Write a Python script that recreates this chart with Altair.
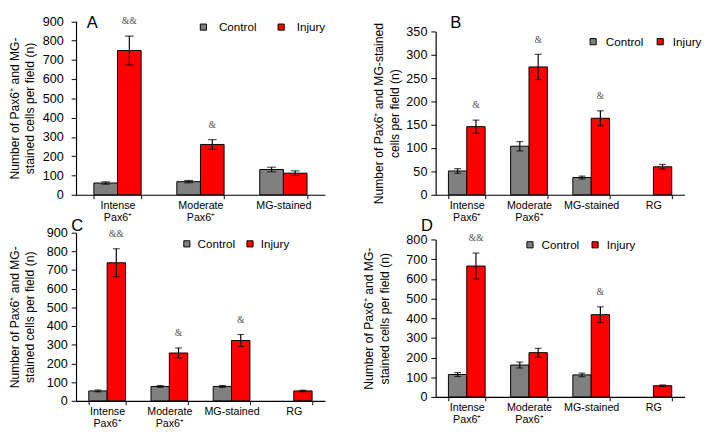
import altair as alt
import pandas as pd

FONT = "Liberation Sans"
SERIF = "Liberation Serif"
W, H = 694, 416  # overall view (page minus 8px margins)

groups = ["Control", "Injury"]
group_colors = ["#808080", "#ff0000"]

cats_a = ["Intense\nPax6⁺", "Moderate\nPax6⁺", "MG-stained"]
cats_bcd = ["Intense\nPax6⁺", "Moderate\nPax6⁺", "MG-stained", "RG"]

title_acd = ["Number of Pax6⁺ and MG-", "stained cells per field (n)"]
title_b = ["Number of Pax6⁺ and MG-stained", "cells per field (n)"]

# Panel A
a_control = [61, 68, 131]
a_control_err = [6, 6, 12]
a_injury = [748, 261, 112]
a_injury_err = [75, 25, 12]
a_sig = ["&&", "&", ""]

# Panel B
b_control = [51, 104, 37, None]
b_control_err = [5, 10, 3, None]
b_injury = [146, 274, 164, 60]
b_injury_err = [14, 27, 16, 5]
b_sig = ["&", "&", "&", ""]

# Panel C
c_control = [53, 77, 77, None]
c_control_err = [5, 5, 5, None]
c_injury = [739, 256, 323, 53]
c_injury_err = [75, 27, 32, 4]
c_sig = ["&&", "&", "&", ""]

# Panel D
d_control = [114, 162, 112, None]
d_control_err = [10, 15, 9, None]
d_injury = [665, 225, 418, 57]
d_injury_err = [66, 22, 40, 4]
d_sig = ["&&", "", "&", ""]


def panel(cats, control, control_err, injury, injury_err, sig, ymax, ystep,
          rect, title_lines, title_x, label_pad, legend_xy,
          legend_offset, legend_colpad, letter, letter_xy,
          pad_inner, pad_outer, cap):
    x0, x1, top, bottom = rect
    rows = []
    for i, c in enumerate(cats):
        for g, vals, errs in (("Control", control, control_err),
                              ("Injury", injury, injury_err)):
            v = vals[i]
            if v is None:
                continue
            rows.append(dict(cat=c, group=g, value=v, lo=v - errs[i],
                             hi=v + errs[i],
                             sig=sig[i] if g == "Injury" else ""))
    df = pd.DataFrame(rows)
    base = alt.Chart(df)

    x = alt.X("cat:N", sort=cats,
              scale=alt.Scale(range=[x0, x1], paddingInner=pad_inner,
                              paddingOuter=pad_outer),
              axis=alt.Axis(title=None, orient="bottom", offset=bottom - H,
                            labelAngle=0,
                            labelExpr="split(datum.label, '\\n')",
                            labelFontSize=11, labelLineHeight=12.5,
                            labelPadding=1, tickSize=4, tickBand="extent",
                            labelBaseline="top"))
    xo = alt.XOffset("group:N", sort=groups,
                     scale=alt.Scale(domain=groups, paddingInner=0,
                                     paddingOuter=0))
    yscale = alt.Scale(domain=[0, ymax], range=[bottom, top], nice=False,
                       zero=True)
    yaxis = alt.Axis(values=list(range(0, ymax + 1, ystep)), orient="left",
                     offset=-x0,
                     title=title_lines, titleFontSize=12.5,
                     titleFontWeight="normal", titleLineHeight=16,
                     titleX=title_x, titleBaseline="bottom",
                     labelFontSize=13, labelPadding=label_pad, tickSize=5)

    bars = base.mark_bar(stroke="black", strokeWidth=1).encode(
        x=x, xOffset=xo,
        y=alt.Y("value:Q", scale=yscale, axis=yaxis),
        color=alt.Color("group:N",
                        scale=alt.Scale(domain=groups, range=group_colors),
                        legend=alt.Legend(orient="none",
                                          legendX=legend_xy[0],
                                          legendY=legend_xy[1],
                                          direction="horizontal", title=None,
                                          symbolType="square", symbolSize=40,
                                          symbolStrokeColor="black",
                                          symbolStrokeWidth=1,
                                          labelFontSize=12, labelFont=FONT,
                                          labelColor="black",
                                          labelOffset=legend_offset,
                                          columnPadding=legend_colpad,
                                          padding=0)))
    rules = base.mark_rule(color="black", strokeWidth=1.2).encode(
        x=x, xOffset=xo,
        y=alt.Y("lo:Q", scale=yscale, axis=yaxis), y2="hi:Q")
    cap_lo = base.mark_tick(color="black", thickness=1.2, size=cap).encode(
        x=x, xOffset=xo, y=alt.Y("lo:Q", scale=yscale, axis=yaxis))
    cap_hi = base.mark_tick(color="black", thickness=1.2, size=cap).encode(
        x=x, xOffset=xo, y=alt.Y("hi:Q", scale=yscale, axis=yaxis))
    text = base.transform_filter("datum.sig != ''").mark_text(
        dy=-15, font=SERIF, fontSize=10, color="#555555",
        baseline="middle").encode(
        x=x, xOffset=xo, y=alt.Y("hi:Q", scale=yscale, axis=yaxis),
        text="sig:N")
    label = alt.Chart(pd.DataFrame({"t": [letter]})).mark_text(
        align="left", baseline="top", fontSize=17, font=FONT,
        color="black").encode(text="t:N", x=alt.value(letter_xy[0]),
                               y=alt.value(letter_xy[1]))

    return alt.layer(bars, rules, cap_lo, cap_hi, text, label)


# plot rectangles in view pixels: (left, right, top, bottom)
A = panel(cats_a, a_control, a_control_err, a_injury, a_injury_err, a_sig,
          900, 100, (69, 325, 6.5, 185), title_acd, -56.5, 8, (194, 6.5),
          10, 19, "A", (80, 0), 0.43, 0.215, 9)
B = panel(cats_bcd, b_control, b_control_err, b_injury, b_injury_err, b_sig,
          350, 50, (439, 695, 17, 185), title_b, -51.5, 4, (595, 21.5),
          7, 11, "B", (454, 0), 0.41, 0.205, 7)
C = panel(cats_bcd, c_control, c_control_err, c_injury, c_injury_err, c_sig,
          900, 100, (69, 325, 224, 397), title_acd, -56.5, 4, (177, 229.5),
          5, 9, "C", (64, 209), 0.41, 0.205, 7)
D = panel(cats_bcd, d_control, d_control_err, d_injury, d_injury_err, d_sig,
          800, 100, (439, 695, 231, 393), title_acd, -61.5, 4, (530, 230.5),
          6, 10, "D", (424, 209), 0.41, 0.205, 7)

chart = alt.layer(A, B, C, D).resolve_scale(
    x="independent", y="independent", color="independent",
    xOffset="independent"
).resolve_axis(x="independent", y="independent").resolve_legend(
    color="independent"
).properties(
    width=W, height=H, padding=0, background="white"
).configure_view(strokeWidth=0).configure_axis(
    domainColor="black", tickColor="black", labelColor="black",
    titleColor="black", labelFont=FONT, titleFont=FONT, grid=False,
    domainWidth=1.2
)

chart.save("out.html", embed_options={"renderer": "svg", "actions": False})
